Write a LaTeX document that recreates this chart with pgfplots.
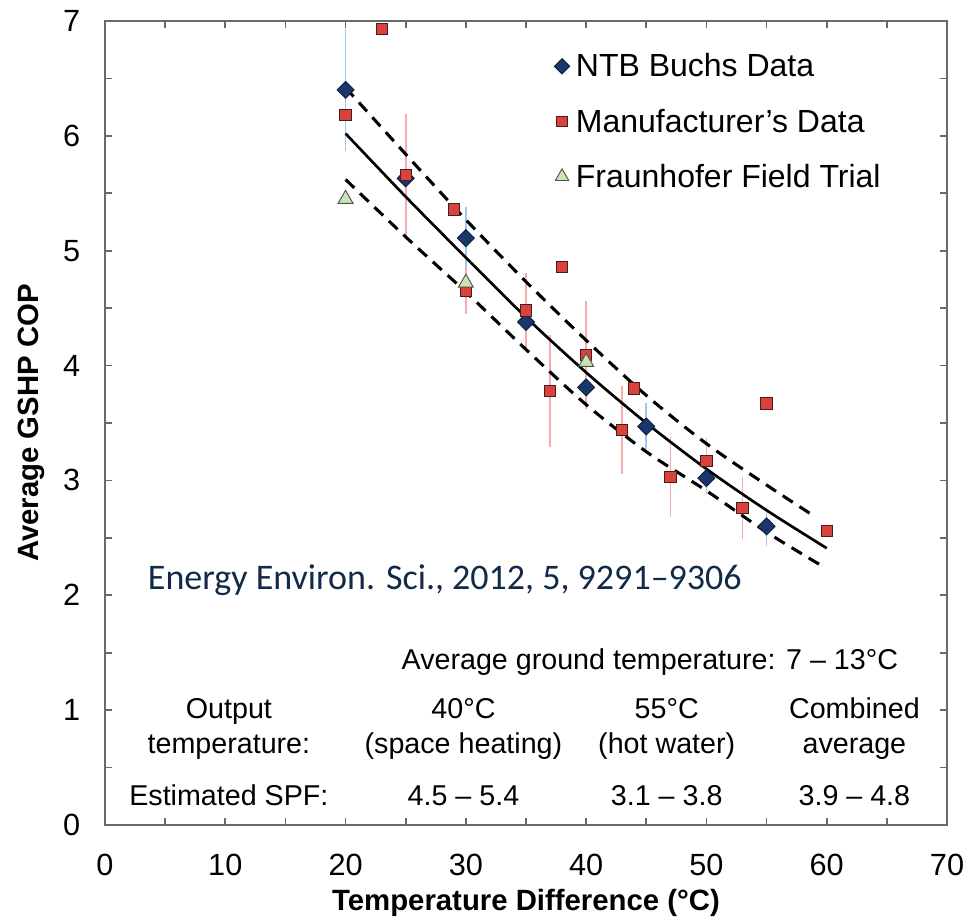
\documentclass[border=0pt]{standalone}
\usepackage{pgfplots}
\pgfplotsset{compat=1.18}
\usepackage{fontspec}
\setmainfont{Liberation Sans}
\newfontfamily\calibri{Carlito}
\definecolor{ntb}{RGB}{24,56,108}
\definecolor{ntbdark}{RGB}{15,30,60}
\definecolor{manu}{RGB}{218,66,62}
\definecolor{manudark}{RGB}{70,30,30}
\definecolor{frau}{RGB}{200,230,180}
\definecolor{fraudark}{RGB}{80,80,80}
\definecolor{ebblue}{RGB}{160,200,235}
\definecolor{ebred}{RGB}{246,172,172}
\definecolor{citec}{RGB}{16,42,72}
\definecolor{axisgray}{RGB}{105,105,105}
\newcommand\af{\fontsize{21.5}{25}\selectfont}
\begin{document}
\begin{tikzpicture}
\begin{axis}[
  name=ax, at={(0,0)}, anchor=south west,
  width=631.5pt, height=603pt, scale only axis,
  xmin=0, xmax=70, ymin=0, ymax=7,
  xtick={0,10,...,70}, ytick={0,1,...,7},
  minor x tick num=1, minor y tick num=1,
  tick align=inside, major tick length=5.5pt, minor tick length=5.5pt,
  axis line style={axisgray, line width=1.4pt},
  every tick/.style={axisgray, line width=1.2pt},
  ticklabel style={font=\fontsize{23}{26}\selectfont},
  /pgf/number format/assume math mode=true,
  yticklabel style={xshift=-15pt},
  xticklabel style={yshift=-18pt},
  xlabel={Temperature Difference (°C)},
  ylabel={Average GSHP COP},
  label style={font=\fontsize{22}{26}\selectfont\bfseries},
  xlabel style={at={(axis description cs:0.5,-0.097)}, anchor=center},
  ylabel style={at={(axis description cs:-0.087,0.5)}, anchor=center},
  legend style={at={(axis description cs:0.530,0.963)}, anchor=north west,
    draw=none, fill=none, font=\fontsize{24}{28}\selectfont,
    row sep=18.5pt, inner sep=0pt},
  legend cell align=left,
  legend image code/.code={\path (0cm,0cm) (0.62cm,0cm); \draw[mark repeat=2,mark phase=2,#1] plot coordinates {(0.1cm,0cm) (0.3cm,0cm) (0.5cm,0cm)};},
  legend image post style={scale=0.9},
]
% error bars
\addplot[forget plot, only marks, mark=none,
  error bars/.cd, y dir=both, y explicit, error mark=none,
  error bar style={ebblue, line width=1.2pt}]
  coordinates {
  (20,6.40) +- (0,0.53)
  (30,5.11) +- (0,0.27)
  (45,3.47) +- (0,0.20)
  (50,3.02) +- (0,0.14)
  (55,2.60) +- (0,0.17)
  };
\addplot[forget plot, only marks, mark=none,
  error bars/.cd, y dir=both, y explicit, error mark=none,
  error bar style={ebred, line width=1.2pt}]
  coordinates {
  (25,5.66) +- (0,0.53)
  (30,4.65) +- (0,0.20)
  (35,4.48) +- (0,0.33)
  (37,3.78) +- (0,0.49)
  (40,4.09) +- (0,0.47)
  (43,3.44) +- (0,0.38)
  (47,3.03) +- (0,0.35)
  (50,3.17) +- (0,0.20)
  (53,2.76) +- (0,0.27)
  };
% fit lines
\addplot[forget plot, black, line width=2pt, smooth, mark=none]
  coordinates {(20,6.02)(25,5.47)(30,4.94)(35,4.42)(40,3.94)(45,3.50)(50,3.10)(55,2.74)(60,2.41)};
\addplot[forget plot, black, line width=2.3pt, smooth, mark=none, dash pattern=on 9pt off 6pt]
  coordinates {(20,6.42)(25,5.84)(30,5.27)(35,4.73)(40,4.22)(45,3.74)(50,3.32)(55,2.96)(58.8,2.70)};
\addplot[forget plot, black, line width=2.3pt, smooth, mark=none, dash pattern=on 9pt off 6pt]
  coordinates {(20,5.62)(25,5.12)(30,4.64)(35,4.14)(40,3.66)(45,3.25)(50,2.91)(55,2.55)(59.7,2.25)};
% markers
\addplot[only marks, mark=square*, mark size=4.5pt,
  mark options={rotate=45, fill=ntb, draw=ntbdark, line width=0.7pt}]
  coordinates {(20,6.40)(25,5.63)(30,5.11)(35,4.38)(40,3.81)(45,3.47)(50,3.02)(55,2.60)};
\addlegendentry{NTB Buchs Data}
\addplot[only marks, mark=square*, mark size=4.25pt,
  mark options={fill=manu, draw=manudark, line width=0.7pt}]
  coordinates {(20,6.18)(23,6.93)(25,5.66)(29,5.36)(30,4.65)(35,4.48)(37,3.78)(38,4.86)
  (40,4.09)(43,3.44)(44,3.80)(47,3.03)(50,3.17)(53,2.76)(55,3.67)(60,2.56)};
\addlegendentry{Manufacturer's Data}
\addplot[only marks, mark=triangle*, mark size=6.5pt,
  mark options={fill=frau, draw=fraudark, line width=0.7pt}]
  coordinates {(20,5.45)(30,4.72)(40,4.03)};
\addlegendentry{Fraunhofer Field Trial}
% annotations
\node[anchor=base west, inner sep=0pt, text=citec, font=\calibri\fontsize{27}{32}\selectfont]
  at (axis cs:3.55,2.05) {Energy Environ. Sci., 2012, 5, 9291–9306};
\node[anchor=base, inner sep=0pt, font=\af] at (axis cs:45.3,1.35) {Average ground temperature: 7 – 13°C};
\node[anchor=base, inner sep=0pt, font=\af] at (axis cs:10.3,0.93) {Output};
\node[anchor=base, inner sep=0pt, font=\af] at (axis cs:10.3,0.62) {temperature:};
\node[anchor=base, inner sep=0pt, font=\af] at (axis cs:10.3,0.17) {Estimated SPF:};
\node[anchor=base, inner sep=0pt, font=\af] at (axis cs:29.8,0.93) {40°C};
\node[anchor=base, inner sep=0pt, font=\af] at (axis cs:29.8,0.62) {(space heating)};
\node[anchor=base, inner sep=0pt, font=\af] at (axis cs:29.8,0.17) {4.5 – 5.4};
\node[anchor=base, inner sep=0pt, font=\af] at (axis cs:46.7,0.93) {55°C};
\node[anchor=base, inner sep=0pt, font=\af] at (axis cs:46.7,0.62) {(hot water)};
\node[anchor=base, inner sep=0pt, font=\af] at (axis cs:46.7,0.17) {3.1 – 3.8};
\node[anchor=base, inner sep=0pt, font=\af] at (axis cs:62.3,0.93) {Combined};
\node[anchor=base, inner sep=0pt, font=\af] at (axis cs:62.3,0.62) {average};
\node[anchor=base, inner sep=0pt, font=\af] at (axis cs:62.3,0.17) {3.9 – 4.8};
\end{axis}
\pgfresetboundingbox
\path[use as bounding box] ([xshift=-78.75pt,yshift=-68.25pt]ax.south west) rectangle ([xshift=17.25pt,yshift=15.75pt]ax.north east);
\end{tikzpicture}
\end{document}
